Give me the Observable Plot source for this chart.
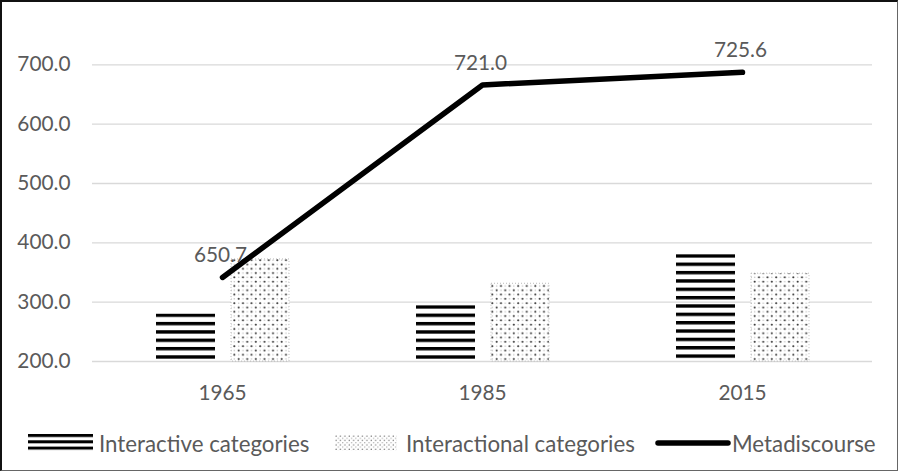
<!DOCTYPE html>
<html><head><meta charset="utf-8">
<script src="https://cdn.jsdelivr.net/npm/d3@7"></script>
<script src="https://cdn.jsdelivr.net/npm/@observablehq/plot@0.6"></script>
<style>
body{margin:0;background:#fff;}
#wrap{position:relative;width:901px;height:472px;font-family:Lato,sans-serif;overflow:hidden;background:#fff;}
#frame{position:absolute;left:0;top:0;width:898px;height:471px;box-sizing:border-box;border-left:2px solid #111;border-top:2px solid #111;border-right:1.5px solid #666;border-bottom:1.5px solid #666;pointer-events:none;}
#chart{position:absolute;left:0;top:0;}
#legend{position:absolute;left:0;top:430px;width:901px;height:26px;font-size:22.3px;color:#5a5a5a;}
.item{position:absolute;top:0;height:26px;display:flex;align-items:center;white-space:nowrap;}
.item svg{display:block;}
</style></head>
<body>
<svg width="0" height="0" style="position:absolute">
  <defs id="patdefs">
    <pattern id="stripes" patternUnits="userSpaceOnUse" width="8.35" height="8.35">
      <rect x="0" y="0" width="8.35" height="3.4" fill="#000"/>
    </pattern>
    <pattern id="dots" patternUnits="userSpaceOnUse" width="8.6" height="8.6">
      <rect width="8.6" height="8.6" fill="#fff"/>
      <circle cx="2.15" cy="2.15" r="1.05" fill="#333"/>
      <circle cx="6.45" cy="6.45" r="1.05" fill="#333"/>
      <circle cx="6.45" cy="2.15" r="0.7" fill="#bbb"/>
      <circle cx="2.15" cy="6.45" r="0.7" fill="#bbb"/>
    </pattern>
    <pattern id="stripesL" patternUnits="userSpaceOnUse" width="6" height="6.3">
      <rect x="0" y="0" width="6" height="3" fill="#000"/>
    </pattern>
    <pattern id="dotsL" patternUnits="userSpaceOnUse" width="4.4" height="4.4">
      <circle cx="1.1" cy="1.1" r="0.7" fill="#666"/>
      <circle cx="3.3" cy="3.3" r="0.7" fill="#aaa"/>
    </pattern>
  </defs>
</svg>
<div id="wrap">
  <div id="chart"></div>
  <div id="legend">
    <div class="item" style="left:28px"><svg width="65" height="18"><rect x="0" y="0" width="65" height="18" fill="url(#stripesL)"/></svg><span style="margin-left:6px">Interactive categories</span></div>
    <div class="item" style="left:335px"><svg width="62" height="16"><rect x="0" y="0" width="62" height="16" fill="url(#dotsL)"/></svg><span style="margin-left:9px">Interactional categories</span></div>
    <div class="item" style="left:654px"><svg width="78" height="12"><line x1="4" y1="6" x2="74" y2="6" stroke="#000" stroke-width="5.5" stroke-linecap="round"/></svg><span style="margin-left:0px">Metadiscourse</span></div>
  </div>
  <div id="frame"></div>
</div>
<script>
// Data
const years = ["1965", "1985", "2015"];
const interactive = [280, 294, 380];
const interactional = [372, 331, 348];
const metadiscourse = [650.7, 721.0, 725.6];
const yTicks = [200, 300, 400, 500, 600, 700];
const yDomain = [200, 800];
const secondaryDomain = [620, 750]; // hidden secondary axis for the line

const barsA = years.map((y, i) => ({year: y, value: interactive[i]}));
const barsB = years.map((y, i) => ({year: y, value: interactional[i]}));
const lineData = years.map((y, i) => ({year: y, value: metadiscourse[i]}));
const toPrimary = d3.scaleLinear(secondaryDomain, yDomain);

const plot = Plot.plot({
  width: 901,
  height: 410,
  marginLeft: 92,
  marginRight: 29,
  marginTop: 5,
  marginBottom: 49,
  style: {fontFamily: "Lato, sans-serif", fontSize: "20.8px", color: "#5a5a5a", background: "transparent"},
  x: {type: "band", domain: years, padding: 0, label: null},
  y: {domain: yDomain, label: null},
  marks: [
    Plot.ruleY(yTicks, {stroke: "#d9d9d9", strokeWidth: 1.3}),
    Plot.barY(barsA, {x: "year", y1: yDomain[0], y2: "value", fill: "url(#stripes)", insetLeft: 64, insetRight: 137, className: "stripebars"}),
    Plot.barY(barsB, {x: "year", y1: yDomain[0], y2: "value", fill: "url(#dots)", stroke: "#aaa", strokeWidth: 0.8, strokeDasharray: "1,2", insetLeft: 139, insetRight: 63}),
    Plot.lineY(lineData, {x: "year", y: d => toPrimary(d.value), stroke: "#000", strokeWidth: 5.5, strokeLinecap: "round", strokeLinejoin: "round"}),
    Plot.text(lineData, {x: "year", y: d => toPrimary(d.value), text: d => d.value.toFixed(1), dy: -22, dx: -2, fill: "#5a5a5a", fontSize: 20.8}),
    Plot.axisY(yTicks, {tickSize: 0, tickPadding: 22, tickFormat: d3.format(".1f"), label: null}),
    Plot.axisX({tickSize: 0, tickPadding: 24, label: null})
  ]
});
document.getElementById("chart").appendChild(plot);

// anchor the stripe pattern at each bar's top edge (as the original pattern fill does)
const defs = document.getElementById("patdefs");
const stripeRects = [];
plot.querySelectorAll('[fill="url(#stripes)"]').forEach(g => {
  if (g.tagName.toLowerCase() === "rect") stripeRects.push(g);
  else g.querySelectorAll("rect").forEach(r => stripeRects.push(r));
});
stripeRects.forEach((r, i) => {
  const id = "stripes-" + i;
  const p = document.getElementById("stripes").cloneNode(true);
  p.setAttribute("id", id);
  p.setAttribute("y", r.getAttribute("y"));
  defs.appendChild(p);
  r.setAttribute("fill", `url(#${id})`);
});
</script>
</body></html>
